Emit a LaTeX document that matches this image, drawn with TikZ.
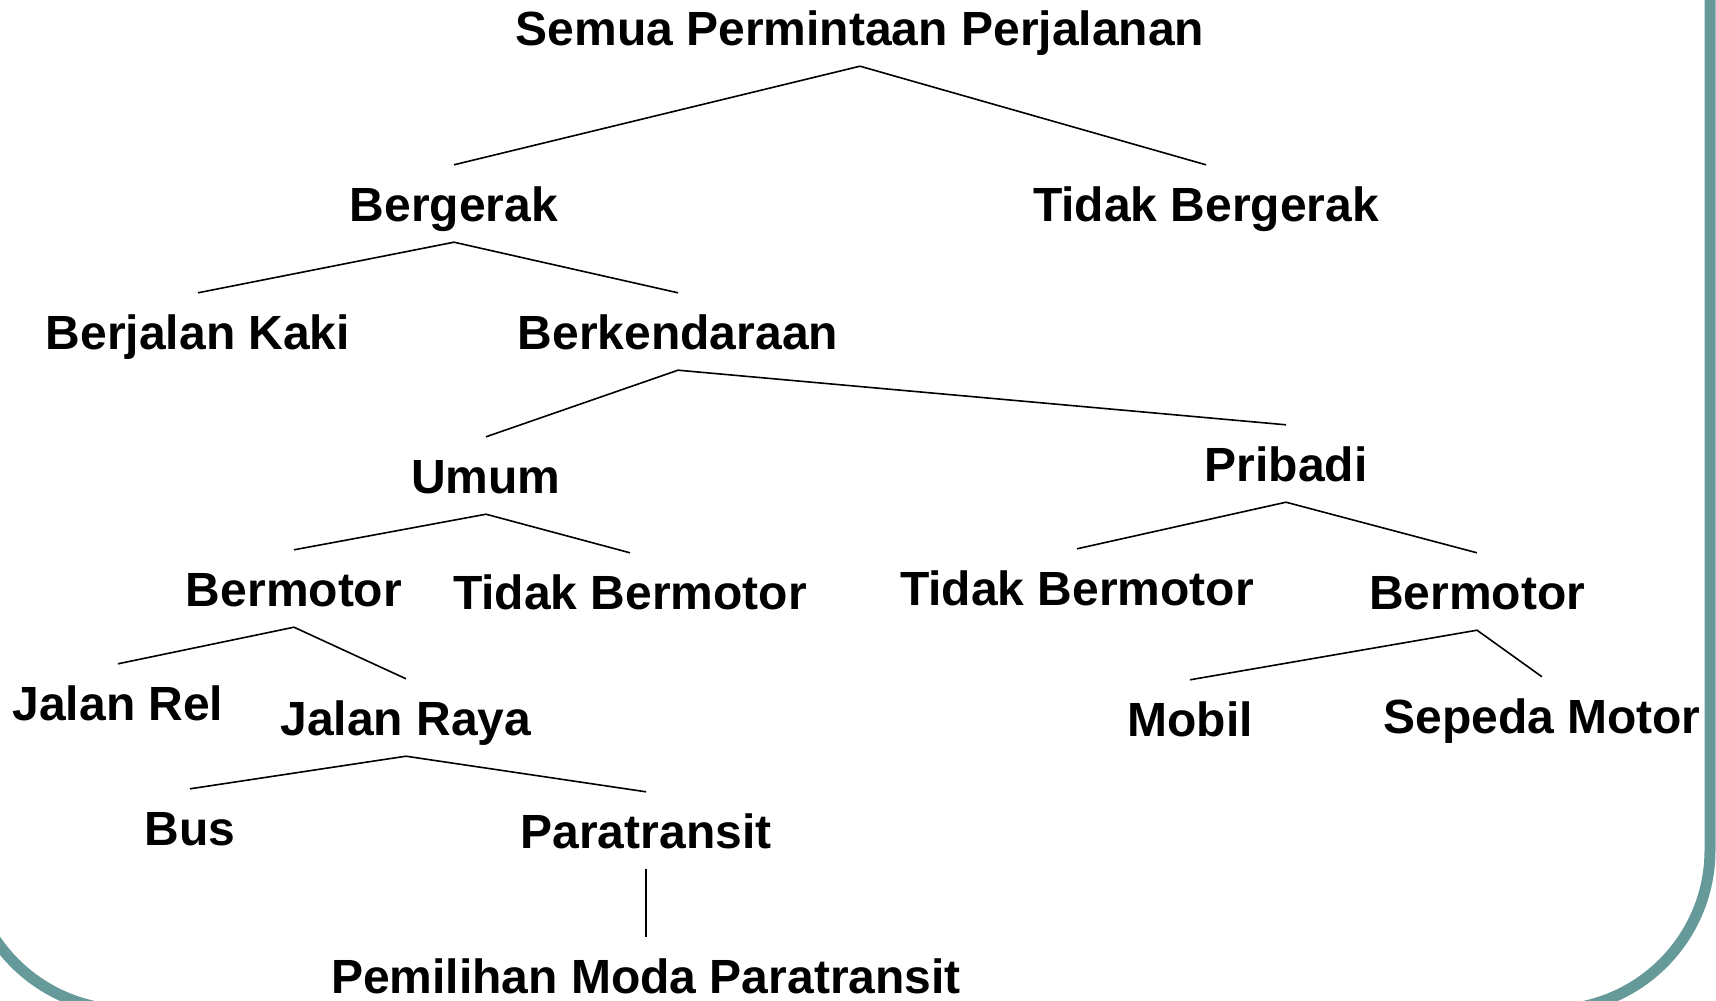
\documentclass[tikz,border=0pt]{standalone}
\usepackage{fontspec}
\setmainfont{Liberation Sans}
\definecolor{frameteal}{RGB}{102,153,153}
\begin{document}
\begin{tikzpicture}[x=1pt,y=-1pt,
  label/.style={font=\fontsize{48}{56}\selectfont\bfseries, anchor=base,
    inner xsep=0pt, inner ysep=21pt, text height=35pt, text depth=0pt},
  branch/.style={draw=black, line width=1.6pt}]
  \useasboundingbox (0,0) rectangle (1716,1001);
  \clip (0,0) rectangle (1716,1001);
  % slide frame, only its lower corners fall inside the page
  \draw[frameteal, line width=11pt, rounded corners=160pt]
    (-32,-200) rectangle (1710,1010);

  % tree labels
  \node[label] (semua)  at (860,45)   {Semua Permintaan Perjalanan};
  \node[label] (gerak)  at (454,221)  {Bergerak};
  \node[label] (tgerak) at (1206,221) {Tidak Bergerak};
  \node[label] (kaki)   at (198,349)  {Berjalan Kaki};
  \node[label] (kendara) at (678,349) {Berkendaraan};
  \node[label] (umum)   at (486,493)  {Umum};
  \node[label] (pribadi) at (1286,481) {Pribadi};
  \node[label] (motorU) at (294,606)  {Bermotor};
  \node[label] (tmotorU) at (630,609) {Tidak Bermotor};
  \node[label] (tmotorP) at (1077,605) {Tidak Bermotor};
  \node[label] (motorP) at (1477,609) {Bermotor};
  \node[label] (rel)    at (118,720)  {Jalan Rel};
  \node[label] (raya)   at (406,735)  {Jalan Raya};
  \node[label] (bus)    at (190,845)  {Bus};
  \node[label] (para)   at (646,848)  {Paratransit};
  \node[label] (pilih)  at (646,993)  {Pemilihan Moda Paratransit};
  \node[label] (mobil)  at (1190,736) {Mobil};
  \node[label] (sepeda) at (1542,733) {Sepeda Motor};

  % branches
  \draw[branch] (gerak.north) -- (semua.south) -- (tgerak.north);
  \draw[branch] (kaki.north) -- (gerak.south) -- (kendara.north);
  \draw[branch] (umum.north) -- (kendara.south) -- (pribadi.north);
  \draw[branch] (motorU.north) -- (umum.south) -- (tmotorU.north);
  \draw[branch] (tmotorP.north) -- (pribadi.south) -- (motorP.north);
  \draw[branch] (rel.north) -- (motorU.south) -- (raya.north);
  \draw[branch] (bus.north) -- (raya.south) -- (para.north);
  \draw[branch] (para.south) -- (pilih.north);
  \draw[branch] (mobil.north) -- (motorP.south) -- (sepeda.north);
\end{tikzpicture}
\end{document}
